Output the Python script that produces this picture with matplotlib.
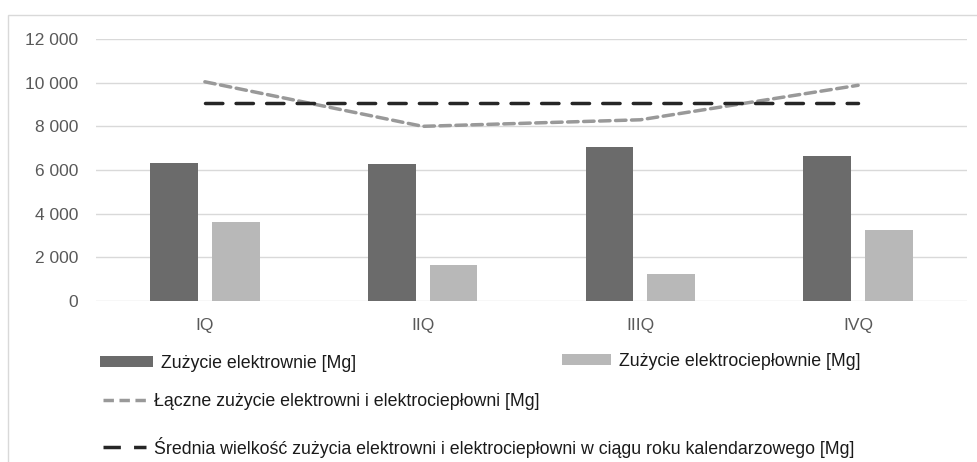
import matplotlib
matplotlib.use("Agg")
import matplotlib.pyplot as plt
from matplotlib.patches import Rectangle, Patch
from matplotlib.lines import Line2D
from matplotlib.ticker import FuncFormatter, MultipleLocator
import numpy as np

categories = ["IQ", "IIQ", "IIIQ", "IVQ"]
elektrownie = [6320, 6280, 7040, 6630]
elektrocieplownie = [3620, 1650, 1240, 3240]
laczne = [10040, 8000, 8300, 9880]
srednia = [9055, 9055, 9055, 9055]
series_labels = [
    "Zużycie elektrownie [Mg]",
    "Zużycie elektrociepłownie [Mg]",
    "Łączne zużycie elektrowni i elektrociepłowni [Mg]",
    "Średnia wielkość zużycia elektrowni i elektrociepłowni w ciągu roku kalendarzowego [Mg]",
]

plt.rcParams['font.family'] = ['Liberation Sans', 'DejaVu Sans']

W, H = 977, 462
fig = plt.figure(figsize=(W / 100, H / 100), dpi=100)
ax = fig.add_axes([96 / W, 1 - 301 / H, (967 - 96) / W, (301 - 39) / H])

dark = "#6b6b6b"
light = "#b8b8b8"
gray_line = "#999999"
black_line = "#262626"
text_col = "#595959"
grid_col = "#d9d9d9"

x = np.arange(len(categories))
bw = 0.22
off = 0.142
ax.bar(x - off, elektrownie, bw, color=dark, zorder=2)
ax.bar(x + off, elektrocieplownie, bw, color=light, zorder=2)
ax.plot(x, laczne, color=gray_line, lw=2.5, ls=(0, (3.0, 1.6)), zorder=3,
        solid_capstyle='round', dash_capstyle='round')
ax.plot(x, srednia, color=black_line, lw=2.5, ls=(0, (5, 3.8)), zorder=3,
        dash_capstyle='round')

ax.set_xlim(-0.5, 3.5)
ax.set_ylim(0, 12000)
ax.yaxis.set_major_locator(MultipleLocator(2000))
ax.yaxis.set_major_formatter(FuncFormatter(lambda v, p: f"{int(v):,}".replace(",", " ")))
ax.set_xticks(x)
ax.set_xticklabels(categories)
ax.grid(axis='y', color=grid_col, lw=1, zorder=0)
ax.set_axisbelow(True)
for s in ax.spines.values():
    s.set_visible(False)
ax.tick_params(axis='both', length=0, colors=text_col, labelsize=12.5)
ax.tick_params(axis='y', pad=13)
ax.tick_params(axis='x', pad=12)

# outer border
fig.patches.append(Rectangle((8 / W, -0.05), 1.0, 1.05 - 15 / H, transform=fig.transFigure,
                             fill=False, edgecolor="#d9d9d9", lw=1, clip_on=False))

fs = 12.8
common = dict(frameon=False, borderpad=0, borderaxespad=0, fontsize=fs,
              handletextpad=0.45, loc='center left', labelcolor='#1a1a1a')
h1 = Patch(facecolor=dark)
h2 = Patch(facecolor=light)
h3 = Line2D([], [], color=gray_line, lw=2.5, ls=(0, (3.0, 1.6)))
h4 = Line2D([], [], color=black_line, lw=2.5, ls=(0, (5, 3.8)))
fig.legend([h1], [series_labels[0]], bbox_to_anchor=(100 / W, 1 - 363 / H),
           handlelength=3.0, handleheight=0.6, **common)
fig.legend([h2], [series_labels[1]], bbox_to_anchor=(562 / W, 1 - 361 / H),
           handlelength=2.75, handleheight=0.6, **common)
fig.legend([h3], [series_labels[2]], bbox_to_anchor=(103 / W, 1 - 402 / H),
           handlelength=2.4, **common)
fig.legend([h4], [series_labels[3]], bbox_to_anchor=(103 / W, 1 - 447 / H),
           handlelength=2.4, **common)

fig.savefig("out.png", dpi=100)
